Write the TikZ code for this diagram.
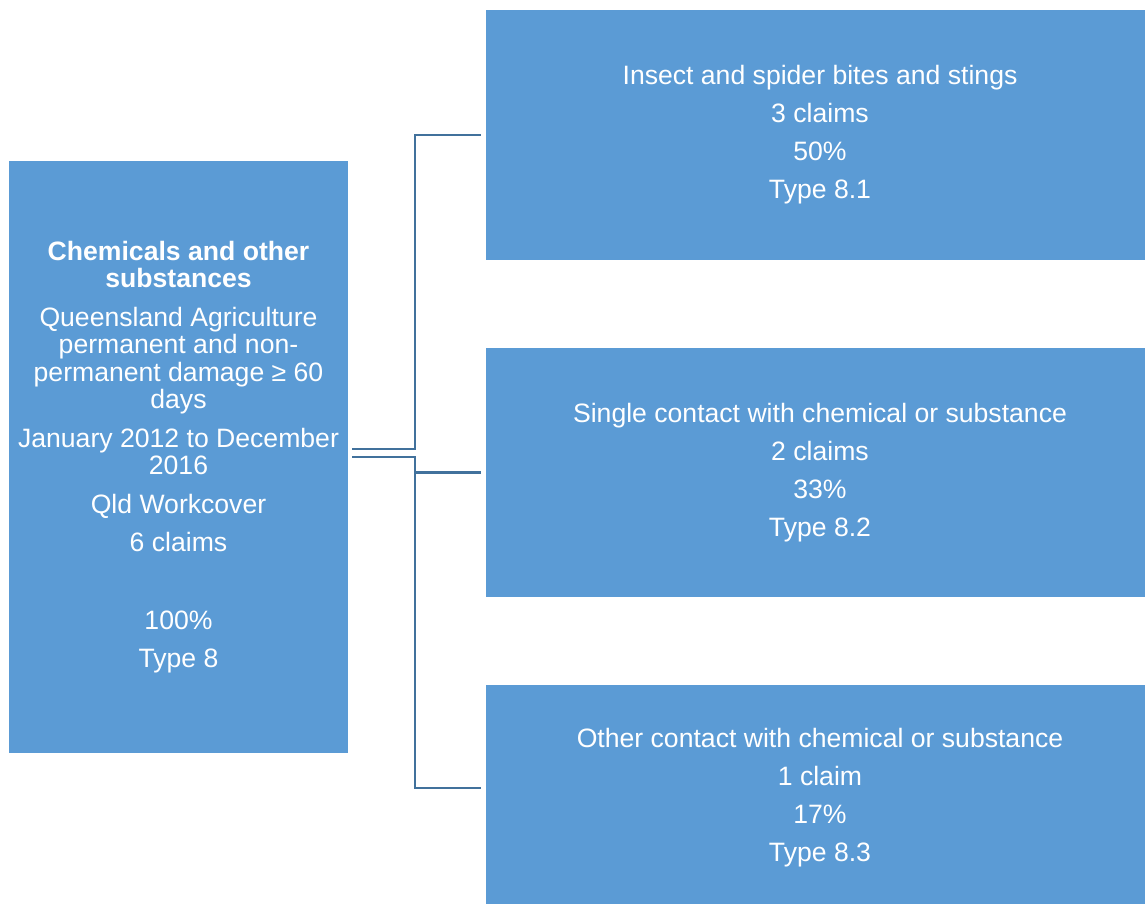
\documentclass[tikz,border=0pt]{standalone}
\usepackage{fontspec}
\setmainfont{Liberation Sans}
\usepackage{tikz}
\usetikzlibrary{positioning,calc}
\definecolor{boxblue}{HTML}{5B9BD5}
\definecolor{lineblue}{HTML}{41719C}

\begin{document}
\begin{tikzpicture}[
  x=1pt, y=-1pt,
  box/.style={fill=boxblue, text=white, align=center, inner sep=0pt,
              font=\fontsize{26.6}{27.5}\selectfont},
  leaf/.style={box, minimum width=668pt},
  link/.style={draw=lineblue, line width=2.4pt}
]
\clip (0,0) rectangle (1145,903);
\node[box, minimum width=339pt, minimum height=592pt] (src) at (178.5,457)
  {\textbf{Chemicals and other}\\\textbf{substances}\\[11pt]
   Queensland Agriculture\\permanent and non-\\permanent damage ≥ 60\\days\\[11pt]
   January 2012 to December\\2016\\[11pt]
   Qld Workcover\\[11pt]6 claims\\[50pt]100\%\\[11pt]Type 8};
\node[leaf, minimum height=250pt] (ins) at (820,135)
  {Insect and spider bites and stings\\[10.5pt]3 claims\\[10.5pt]50\%\\[10.5pt]Type 8.1};
\node[leaf, minimum height=249pt] (single) at (820,472.5)
  {Single contact with chemical or substance\\[10.5pt]2 claims\\[10.5pt]33\%\\[10.5pt]Type 8.2};
\node[leaf, minimum height=226pt] (other) at (820,798)
  {Other contact with chemical or substance\\[10.5pt]1 claim\\[10.5pt]17\%\\[10.5pt]Type 8.3};
% elbow connectors
\draw[link] ([shift={(4pt,8pt)}]src.east) -- ++(63,0) |- ([xshift=-5pt]ins.west);
\draw[link] ([xshift=4pt]src.east) -- ++(63,0) coordinate (fork)
  |- ([shift={(-5pt,10pt)}]other.west);
\draw[link] (fork |- single.west) -- ([xshift=-5pt]single.west);
\end{tikzpicture}
\end{document}
